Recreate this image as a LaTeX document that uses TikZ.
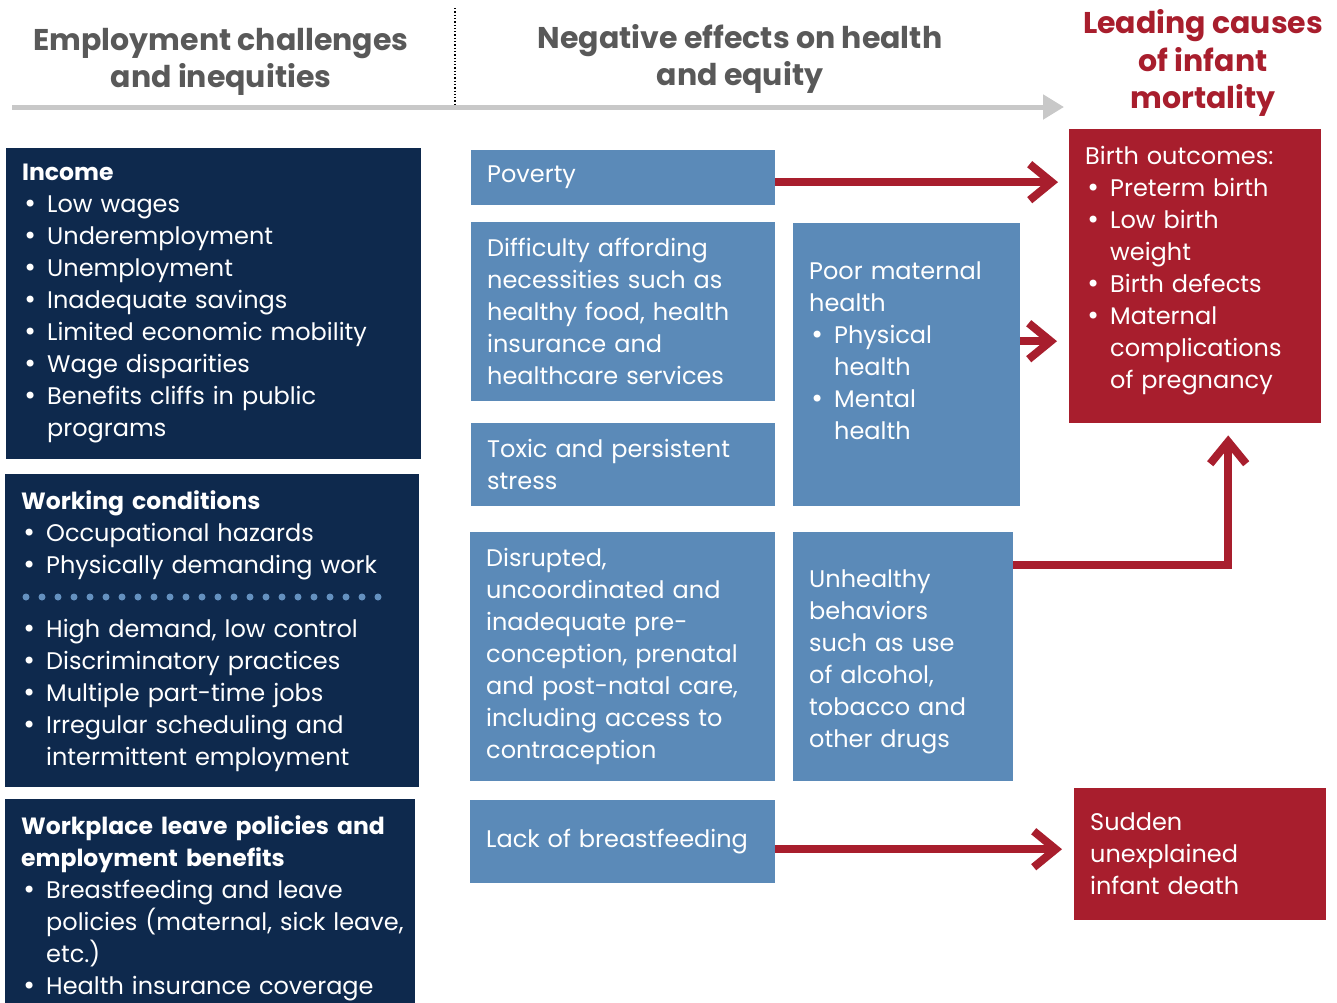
\documentclass[tikz,border=0pt]{standalone}
\usepackage{fontspec}
\setmainfont{Poppins}
\newfontfamily\bulletfont{DejaVu Sans}
\usetikzlibrary{arrows.meta, positioning}
\definecolor{navy}{RGB}{14,41,77}
\definecolor{steel}{RGB}{91,138,184}
\definecolor{crimson}{RGB}{168,30,45}
\definecolor{headgray}{RGB}{89,89,89}
\definecolor{rulegray}{RGB}{200,200,200}
\definecolor{dotblue}{RGB}{100,145,192}
\newcommand{\bitem}{\par\hangindent=25pt\hangafter=1\noindent\makebox[25pt][l]{\hspace{1pt}{\bulletfont •}}}
\newcommand{\boxhead}[1]{{\fontsize{23.5}{32}\selectfont\bfseries #1}}
\tikzstyle{arrow} = [crimson, line width=8pt, -{Straight Barb[length=22pt,width=36pt]}]
\tikzstyle{heading} = [headgray, align=center, font=\fontsize{30}{37.5}\selectfont\bfseries]
\tikzstyle{challenge} = [rectangle, fill=navy, text=white, anchor=north west, inner sep=16pt, align=left, font=\fontsize{24}{32}\selectfont]
\tikzstyle{effect} = [rectangle, fill=steel, text=white, anchor=north west, inner sep=16pt, align=left, font=\fontsize{24}{32}\selectfont]
\tikzstyle{cause} = [rectangle, fill=crimson, text=white, anchor=north west, inner sep=16pt, align=left, font=\fontsize{24}{32}\selectfont]

\begin{document}
\begin{tikzpicture}[x=1pt, y=-1pt]
\useasboundingbox (0,0) rectangle (1337,1002);
% column titles
\node (head1) [heading] at (221,62) {Employment challenges\\and inequities};
\node (head2) [heading] at (740,59) {Negative effects on health\\and equity};
\node (head3) [heading, text=crimson] at (1203,63) {Leading causes\\of infant\\mortality};
\coordinate (axisstart) at (12,107);
\coordinate (axisend) at (1064,107);
\draw [rulegray, line width=5pt, -{Triangle[length=21pt,width=24pt]}] (axisstart) -- (axisend);
\draw [dotted, line width=1.3pt] (455,8) -- (455,105);

% employment challenges
\node (income) [challenge, minimum width=415pt, minimum height=307pt, text width=383pt] at (6,148) {\boxhead{Income}
\bitem Low wages
\bitem Underemployment
\bitem Unemployment
\bitem Inadequate savings
\bitem Limited economic mobility
\bitem Wage disparities
\bitem Benefits cliffs in public\newline programs\par};
\node (work) [challenge, minimum width=414pt, minimum height=307pt, text width=382pt] at (5,474) {\boxhead{Working conditions}
\bitem Occupational hazards
\bitem Physically demanding work
\par\mbox{}
\bitem High demand, low control
\bitem Discriminatory practices
\bitem Multiple part-time jobs
\bitem Irregular scheduling and\newline intermittent employment\par};
\draw [dotblue, line width=7pt, line cap=round, dash pattern=on 0pt off 16pt] (26,597) -- (380,597);
\node (leave) [challenge, minimum width=410pt, minimum height=215pt, text width=378pt] at (5,799) {\boxhead{\mbox{Workplace leave policies and}\newline employment benefits}
\bitem Breastfeeding and leave\newline \mbox{policies (maternal, sick leave,}\newline etc.)
\bitem Health insurance coverage\par};

% negative effects
\node (poverty) [effect, minimum width=304pt, minimum height=51pt, text width=272pt] at (471,150) {Poverty};
\node (afford) [effect, minimum width=304pt, minimum height=179pt, text width=272pt] at (471,222) {Difficulty affording\\necessities such as\\healthy food, health\\insurance and\\healthcare services};
\node (stress) [effect, minimum width=304pt, minimum height=83pt, text width=272pt] at (471,423) {Toxic and persistent\\stress};
\node (maternal) [effect, minimum width=227pt, minimum height=283pt, text width=195pt] at (793,223) {Poor maternal\newline health
\bitem Physical\newline health
\bitem Mental\newline health\par\vspace{28pt}};
\node (care) [effect, minimum width=305pt, minimum height=249pt, text width=273pt] at (470,532) {Disrupted,\\uncoordinated and\\inadequate pre-\\conception, prenatal\\and post-natal care,\\including access to\\contraception};
\node (behavior) [effect, minimum width=220pt, minimum height=249pt, text width=188pt] at (793,532) {Unhealthy\newline behaviors\newline such as use\newline of alcohol,\newline tobacco and\newline other drugs\par\vspace{-10pt}};
\node (feeding) [effect, minimum width=305pt, minimum height=83pt, text width=273pt] at (470,800) {Lack of breastfeeding};

% leading causes
\node (birth) [cause, minimum width=252pt, minimum height=294pt, text width=220pt] at (1069,129) {Birth outcomes:
\bitem Preterm birth
\bitem Low birth\newline weight
\bitem Birth defects
\bitem Maternal\newline complications\newline of pregnancy\par\vspace{12pt}};
\node (sids) [cause, minimum width=252pt, minimum height=132pt, text width=220pt] at (1074,788) {Sudden\\unexplained\\infant death};

\draw [arrow, shorten >=11pt] ([yshift=-4.5pt]poverty.east) -- ([yshift=-4.5pt]poverty.east -| birth.west);
\draw [arrow, shorten >=12pt] ([yshift=23.5pt]maternal.east) -- ([yshift=23.5pt]maternal.east -| birth.west);
\draw [arrow, shorten >=12pt] ([yshift=91.5pt]behavior.east) -| ([xshift=33pt]birth.south);
\draw [arrow, shorten >=12pt] ([yshift=-7.5pt]feeding.east) -- ([yshift=-7.5pt]feeding.east -| sids.west);
\end{tikzpicture}
\end{document}
